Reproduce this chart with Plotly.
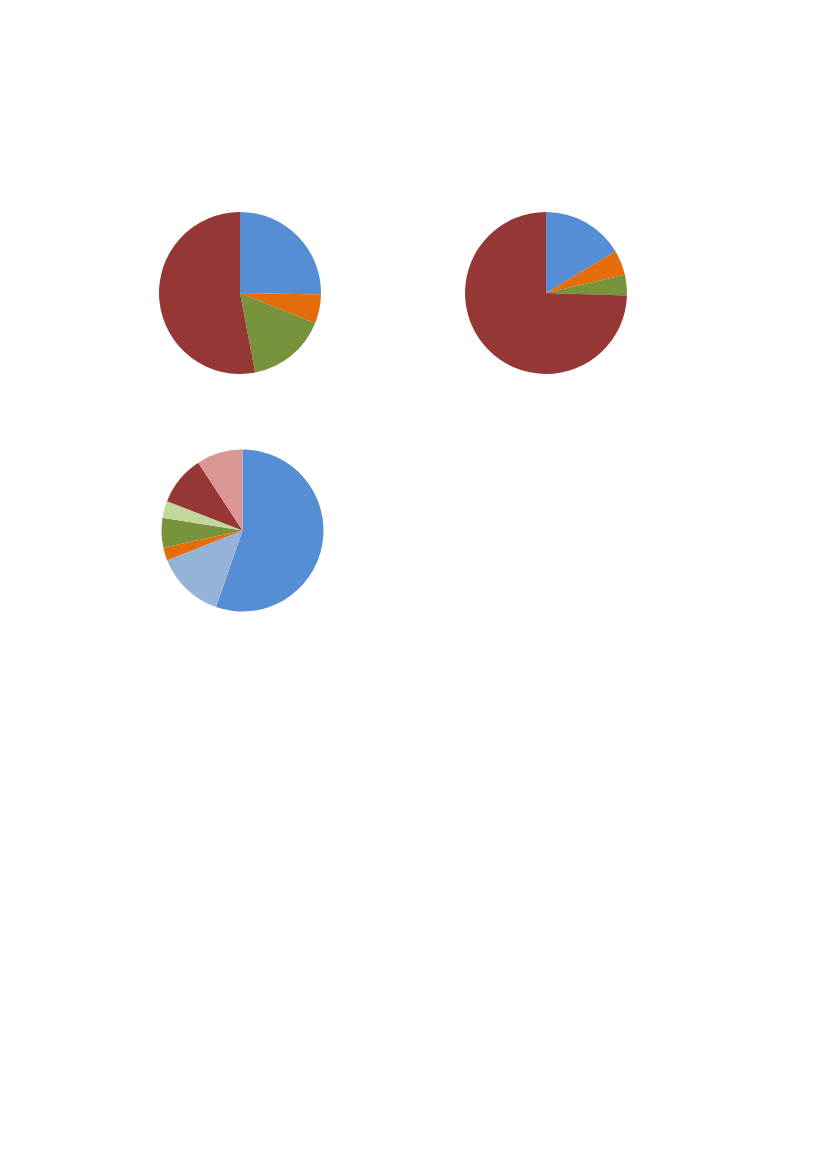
import plotly.graph_objects as go

# values (percent, clockwise from 12 o'clock)
pie1_values = [25.3, 5.8, 15.9, 53.0]
pie1_colors = ["#558ED5", "#E46C0A", "#77933C", "#953735"]

pie2_values = [16.4, 5.0, 4.1, 74.5]
pie2_colors = ["#558ED5", "#E46C0A", "#77933C", "#953735"]

pie3_values = [55.3, 13.7, 2.6, 5.9, 3.4, 9.9, 9.2]
pie3_colors = ["#558ED5", "#95B3D7", "#E46C0A", "#77933C", "#C3D69B", "#953735", "#D99694"]

W, H = 827, 1169
OFF = 8  # page body margin pushes the plot 8px right and down


def dom(cx, cy, r):
    # square domain in paper coords around a pixel centre
    cx -= OFF
    cy -= OFF
    return dict(x=[(cx - r) / W, (cx + r) / W],
                y=[1 - (cy + r) / H, 1 - (cy - r) / H])


fig = go.Figure()
for vals, cols, (cx, cy) in [(pie1_values, pie1_colors, (240, 293)),
                             (pie2_values, pie2_colors, (546, 293)),
                             (pie3_values, pie3_colors, (242.5, 530.5))]:
    fig.add_trace(go.Pie(
        values=vals,
        marker=dict(colors=cols, line=dict(width=0)),
        sort=False,
        direction="clockwise",
        rotation=0,
        textinfo="none",
        hoverinfo="percent",
        showlegend=False,
        domain=dom(cx, cy, 81),
    ))

fig.update_layout(width=W, height=H, margin=dict(l=0, r=0, t=0, b=0),
                  paper_bgcolor="white", plot_bgcolor="white")
fig.write_html("out.html")
